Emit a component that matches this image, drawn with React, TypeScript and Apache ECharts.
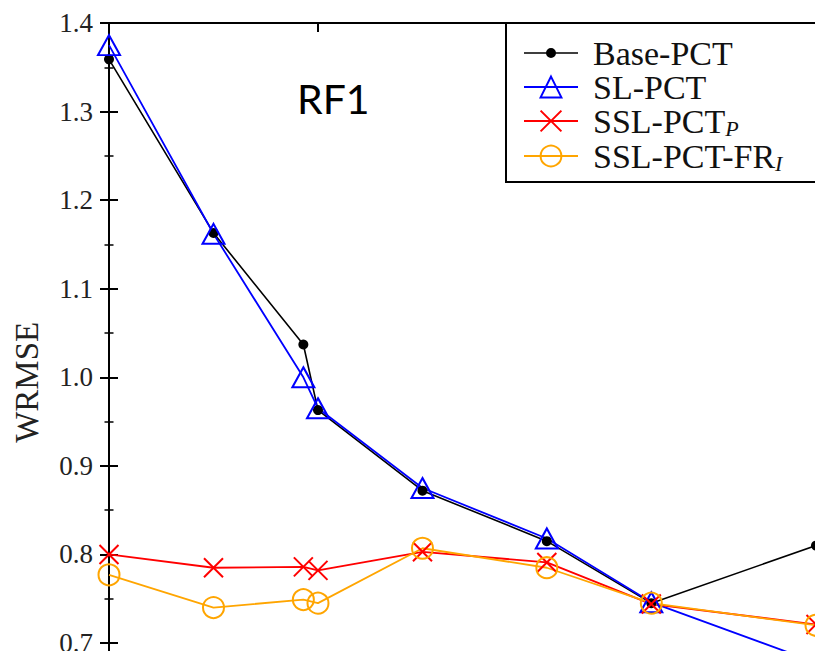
import React, { useEffect, useRef } from "react";
import * as echarts from "echarts";

// ---- data ----
const xValues = [0, 1, 1.86, 2, 3, 4.19, 5.19, 6.766];
const basePct = [1.359, 1.163, 1.037, 0.963, 0.872, 0.815, 0.745, 0.81];
const slPct = [1.375, 1.162, 1.0, 0.965, 0.875, 0.818, 0.746, 0.678];
const sslPctP = [0.8, 0.785, 0.786, 0.782, 0.803, 0.791, 0.744, 0.721];
const sslPctFrI = [0.777, 0.74, 0.749, 0.745, 0.807, 0.785, 0.745, 0.72];
const seriesNames = ["Base-PCT", "SL-PCT", "SSL-PCT_P", "SSL-PCT-FR_I"];
const legendLabels: Record<string, string> = {
  "Base-PCT": "{n|Base-PCT}",
  "SL-PCT": "{n|SL-PCT}",
  "SSL-PCT_P": "{n|SSL-PCT}{s|P}",
  "SSL-PCT-FR_I": "{n|SSL-PCT-FR}{s|I}",
};
const yMin = 0.6;
const yMax = 1.4;
const yInterval = 0.1;
const xMin = 0;
const xMax = 6.766;
const xInterval = 2;
const yAxisName = "WRMSE";
const titleText = "RF1";

const SERIF = "'Liberation Serif', 'Times New Roman', serif";

const pairs = (ys: number[]) => xValues.map((x, i) => [x, ys[i]]);

export default function App() {
  const ref = useRef<HTMLDivElement>(null);

  useEffect(() => {
    if (!ref.current) return;
    const chart = echarts.init(ref.current, undefined, { renderer: "svg" });

    const yAxisCommon = {
      type: "value" as const,
      min: yMin,
      max: yMax,
      interval: yInterval,
      splitLine: { show: false },
      axisLine: { show: true, lineStyle: { color: "#000", width: 2 } },
      axisTick: { show: true, inside: true, length: 9, lineStyle: { color: "#000", width: 2 } },
      minorTick: { show: true, splitNumber: 2, length: 4.5, lineStyle: { color: "#000", width: 1.5 } },
    };
    const xAxisCommon = {
      type: "value" as const,
      min: xMin,
      max: xMax,
      interval: xInterval,
      splitLine: { show: false },
      axisLine: { show: true, onZero: false, lineStyle: { color: "#000", width: 2 } },
      axisTick: { show: true, inside: true, length: 9, lineStyle: { color: "#000", width: 2 } },
      axisLabel: { show: false },
    };

    const baseIcon =
      "path://M0,0 M54,26 M0,12.2 L54,12.2 L54,13.8 L0,13.8 Z M32,13 A5,5 0 1 1 22,13 A5,5 0 1 1 32,13 Z";

    chart.setOption({
      animation: false,
      backgroundColor: "#fff",
      grid: { left: 109, top: 23, width: 707, height: 708.6, containLabel: false },
      xAxis: [
        { ...xAxisCommon, position: "bottom" },
        { ...xAxisCommon, position: "top" },
      ],
      yAxis: [
        {
          ...yAxisCommon,
          position: "left",
          name: yAxisName,
          nameLocation: "middle",
          nameRotate: 90,
          nameGap: 66,
          nameTextStyle: { fontFamily: SERIF, fontSize: 33, color: "#222", padding: [0, 10, 0, 0] },
          axisLabel: {
            show: true,
            margin: 16,
            fontFamily: SERIF,
            fontSize: 27,
            color: "#222",
            formatter: (v: number) => v.toFixed(1),
          },
        },
        { ...yAxisCommon, position: "right", axisLabel: { show: false } },
      ],
      legend: {
        orient: "vertical",
        left: 506,
        top: 23,
        padding: [13, 45, 8, 17],
        itemGap: 0,
        itemWidth: 54,
        itemHeight: 26,
        backgroundColor: "#fff",
        borderColor: "#000",
        borderWidth: 2,
        borderRadius: 0,
        selectedMode: false,
        data: [
          { name: seriesNames[0], icon: baseIcon },
          { name: seriesNames[1] },
          { name: seriesNames[2] },
          { name: seriesNames[3] },
        ],
        formatter: (name: string) => legendLabels[name] || name,
        textStyle: {
          fontFamily: SERIF,
          fontSize: 34,
          color: "#111",
          rich: {
            n: { fontFamily: SERIF, fontSize: 34, lineHeight: 36, color: "#111", padding: [0, 0, 0, 10] },
            s: {
              fontFamily: SERIF,
              fontSize: 22,
              fontStyle: "italic",
              lineHeight: 20,
              color: "#111",
              verticalAlign: "bottom",
            },
          },
        },
      },
      graphic: [
        {
          type: "text",
          left: 297,
          top: 78,
          z: 10,
          style: { text: titleText, font: "41px Lato, 'Noto Sans', sans-serif", fill: "#000" },
        },
      ],
      series: [
        {
          name: seriesNames[0],
          type: "line",
          data: pairs(basePct),
          symbol: "circle",
          symbolSize: 10,
          lineStyle: { color: "#000", width: 1.6 },
          itemStyle: { color: "#000", borderWidth: 0 },
          emphasis: { disabled: true },
        },
        {
          name: seriesNames[1],
          type: "line",
          data: pairs(slPct),
          symbol: "triangle",
          symbolSize: [22, 20],
          lineStyle: { color: "#0000ff", width: 1.8 },
          itemStyle: { color: "rgba(0,0,0,0)", borderColor: "#0000ff", borderWidth: 2 },
          emphasis: { disabled: true },
        },
        {
          name: seriesNames[2],
          type: "line",
          data: pairs(sslPctP),
          symbol: "path://M0,0L10,10M10,0L0,10",
          symbolSize: 19,
          lineStyle: { color: "#ff0000", width: 1.8 },
          itemStyle: { color: "rgba(0,0,0,0)", borderColor: "#ff0000", borderWidth: 2 },
          emphasis: { disabled: true },
        },
        {
          name: seriesNames[3],
          type: "line",
          data: pairs(sslPctFrI),
          symbol: "circle",
          symbolSize: 21,
          lineStyle: { color: "#ffa500", width: 1.8 },
          itemStyle: { color: "rgba(0,0,0,0)", borderColor: "#ffa500", borderWidth: 2 },
          emphasis: { disabled: true },
        },
      ],
    });

    return () => chart.dispose();
  }, []);

  return (
    <div
      style={{
        position: "fixed",
        left: 0,
        top: 0,
        width: 815,
        height: 651,
        overflow: "hidden",
        background: "#fff",
      }}
    >
      <div ref={ref} style={{ width: 860, height: 800 }} />
    </div>
  );
}
